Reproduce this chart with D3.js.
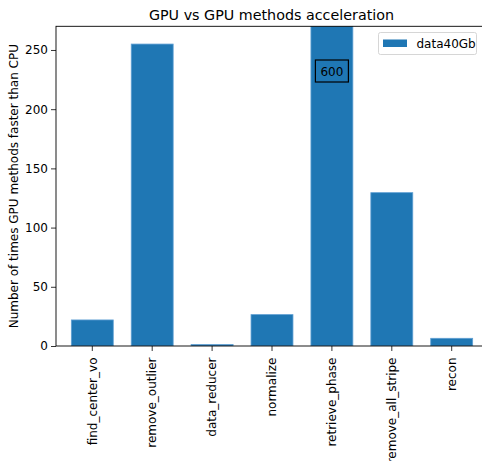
<!DOCTYPE html>
<html>
<head>
<meta charset="utf-8">
<script src="https://cdn.jsdelivr.net/npm/d3@7"></script>
<style>
  body { margin: 0; background: #fff; }
  text { font-family: "DejaVu Sans", sans-serif; fill: #000; }
</style>
</head>
<body>
<svg id="chart" width="482" height="461"></svg>
<script>
const categories = ["find_center_vo", "remove_outlier", "data_reducer", "normalize", "retrieve_phase", "remove_all_stripe", "recon"];
const values = [22, 255, 1.2, 26.5, 600, 129.5, 6.5];
const yTicks = [0, 50, 100, 150, 200, 250];
const seriesName = "data40Gb";
const annotationText = "600";
const annotationIndex = 4;
const yMax = 270;

(function () {
const svg = d3.select("#chart");
const pLeft = 56, pRight = 488, pTop = 26.3, pBottom = 346;
const color = "#1f77b4";
const fs = "12px";

const x = d3.scaleBand().domain(categories).range([pLeft, pRight]).paddingInner(0.3).paddingOuter(0.256);
const y = d3.scaleLinear().domain([0, yMax]).range([pBottom, pTop]);

svg.append("defs").append("clipPath").attr("id", "clip")
  .append("rect").attr("x", pLeft).attr("y", pTop).attr("width", pRight - pLeft).attr("height", pBottom - pTop);

// bars
svg.append("g").attr("clip-path", "url(#clip)")
  .selectAll("rect").data(categories).join("rect")
  .attr("x", d => x(d))
  .attr("width", x.bandwidth())
  .attr("y", (d, i) => y(values[i]))
  .attr("height", (d, i) => pBottom - y(values[i]))
  .attr("fill", color)
  .attr("stroke", "#5f9fd3")
  .attr("stroke-width", 0.8);

// annotation
const ax = x(categories[annotationIndex]) + x.bandwidth() / 2;
const ann = svg.append("g");
ann.append("rect").attr("x", ax - 16.5).attr("y", 60).attr("width", 33).attr("height", 22)
  .attr("fill", "none").attr("stroke", "#000").attr("stroke-width", 1.2);
ann.append("text").attr("x", ax).attr("y", 75.5).attr("text-anchor", "middle")
  .attr("font-size", fs).text(annotationText);

// y axis
const yAxis = d3.axisLeft(y).tickValues(yTicks).tickSize(5).tickPadding(3);
const gy = svg.append("g").attr("transform", `translate(${pLeft},0)`).call(yAxis);
gy.select(".domain").remove();
gy.selectAll("text").attr("font-size", fs).attr("font-family", "DejaVu Sans, sans-serif").attr("fill", "#000");
gy.selectAll("line").attr("stroke", "#000").attr("stroke-width", 0.8);

// x axis
const xAxis = d3.axisBottom(x).tickSize(5).tickPadding(0);
const gx = svg.append("g").attr("transform", `translate(0,${pBottom})`).call(xAxis);
gx.select(".domain").remove();
gx.selectAll("line").attr("stroke", "#000").attr("stroke-width", 0.8);
gx.selectAll("text")
  .attr("font-size", fs).attr("font-family", "DejaVu Sans, sans-serif").attr("fill", "#000")
  .attr("transform", "rotate(-90)")
  .attr("text-anchor", "end")
  .attr("x", -11.5).attr("y", 0).attr("dy", "0.35em");

// spines
svg.append("rect").attr("x", pLeft).attr("y", pTop).attr("width", pRight - pLeft).attr("height", pBottom - pTop)
  .attr("fill", "none").attr("stroke", "#000").attr("stroke-width", 0.9);

// title
svg.append("text").attr("x", 271.5).attr("y", 20).attr("text-anchor", "middle")
  .attr("font-size", "14.3px").text("GPU vs GPU methods acceleration");

// y label
svg.append("text").attr("transform", `translate(18,${(pTop + pBottom) / 2}) rotate(-90)`)
  .attr("text-anchor", "middle").attr("font-size", fs)
  .text("Number of times GPU methods faster than CPU");

// legend
const lg = svg.append("g");
lg.append("rect").attr("x", 378.5).attr("y", 32.5).attr("width", 98).attr("height", 22).attr("rx", 2)
  .attr("fill", "#fff").attr("fill-opacity", 0.8).attr("stroke", "#ccc").attr("stroke-width", 0.8);
lg.append("rect").attr("x", 383).attr("y", 39.5).attr("width", 24).attr("height", 7.5).attr("fill", color);
lg.append("text").attr("x", 416.5).attr("y", 48).attr("font-size", fs).text(seriesName);
})();
</script>
</body>
</html>
